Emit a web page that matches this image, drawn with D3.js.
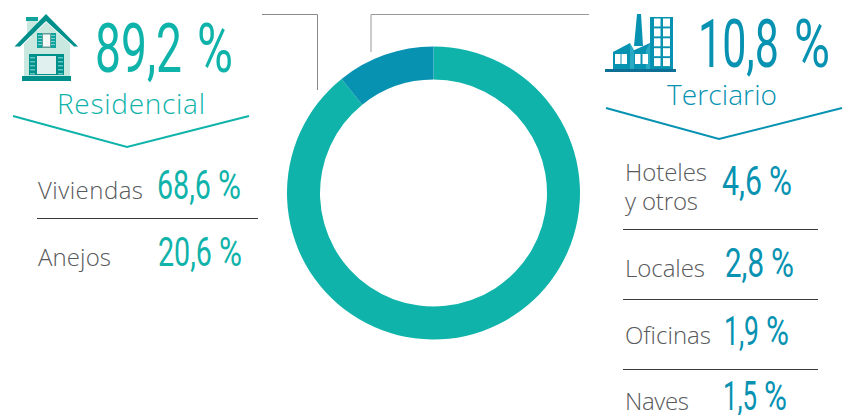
<!DOCTYPE html>
<html>
<head>
<meta charset="utf-8">
<style>
html, body { margin: 0; padding: 0; background: #fff; }
svg { display: block; }
.label { font-family: "Open Sans", sans-serif; font-weight: 300; fill: #58595b; }
.value { font-family: Roboto, sans-serif; font-weight: 400; }
.group { font-family: "Open Sans", sans-serif; font-weight: 300; }
</style>
<script src="https://cdn.jsdelivr.net/npm/d3@7"></script>
</head>
<body>
<svg width="851" height="415"></svg>
<script>
var shareNames = ["Residencial", "Terciario"];
var shareValues = [89.2, 10.8];
var residentialNames = ["Viviendas", "Anejos"];
var residentialValues = ["68,6 %", "20,6 %"];
var tertiaryNames = [["Hoteles", "y otros"], ["Locales"], ["Oficinas"], ["Naves"]];
var tertiaryValues = ["4,6 %", "2,8 %", "1,9 %", "1,5 %"];

var teal = "#0fb3aa";
var blue = "#0792b2";
var center = {x: 433.5, y: 193};
var outerRadius = 146.5;
var innerRadius = 113.5;

var svg = d3.select("svg");

// number and % sign are squeezed on their own, the original face is condensed
function drawValue(text, x, baseline, width, size, color, percentWidth, gap) {
    var parts = text.split(" ");
    [[parts[0], x, width - percentWidth - gap], [parts[1], x + width - percentWidth, percentWidth]].forEach(function(part) {
        var node = svg.append("text")
            .attr("class", "value")
            .attr("font-size", size)
            .attr("fill", color)
            .text(part[0]);
        var squeeze = part[2] / node.node().getComputedTextLength();
        node.attr("transform", "translate(" + part[1] + "," + baseline + ") scale(" + squeeze + ",1)");
    });
}

function drawLabel(text, x, baseline, width) {
    svg.append("text")
        .attr("class", "label")
        .attr("x", x)
        .attr("y", baseline)
        .attr("font-size", 24)
        .attr("textLength", width)
        .attr("lengthAdjust", "spacing")
        .text(text);
}

function drawGroupName(text, x, baseline, width, color) {
    svg.append("text")
        .attr("class", "group")
        .attr("x", x)
        .attr("y", baseline)
        .attr("font-size", 28)
        .attr("fill", color)
        .attr("textLength", width)
        .attr("lengthAdjust", "spacing")
        .text(text);
}

function drawPath(points, color, width) {
    svg.append("path")
        .attr("d", d3.line()(points))
        .attr("fill", "none")
        .attr("stroke", color)
        .attr("stroke-width", width);
}

function drawDonut() {
    var pie = d3.pie().sort(null);
    var arc = d3.arc().innerRadius(innerRadius).outerRadius(outerRadius);
    svg.append("g")
        .attr("transform", "translate(" + center.x + "," + center.y + ")")
        .selectAll("path")
        .data(pie(shareValues))
        .enter()
        .append("path")
        .attr("d", arc)
        .attr("fill", function(d, index) { return index === 0 ? teal : blue; });
}

function rect(group, x, y, w, h, color) {
    group.append("rect").attr("x", x).attr("y", y).attr("width", w).attr("height", h).attr("fill", color);
}

function poly(group, points, color) {
    group.append("polygon").attr("points", points).attr("fill", color);
}

function drawHouse() {
    var g = svg.append("g");
    var dark = "#00908c";
    var mid = "#0fa39c";
    rect(g, 27, 20, 10, 16, "#c9e8df");
    rect(g, 26, 17, 12, 4, mid);
    poly(g, "24,44 46,22 70,44 70,76 24,76", "#c9e8df");
    poly(g, "14.5,46.5 46,14 78,46.5 74,46.5 46,21 20,46.5", dark);
    // upper window
    rect(g, 37, 33, 19, 15, mid);
    d3.range(35, 47, 3).forEach(function(y) {
        rect(g, 38, y, 4, 1, "#7fd3cd");
        rect(g, 51, y, 4, 1, "#7fd3cd");
    });
    rect(g, 42, 33, 9, 15, "#5f9e9b");
    rect(g, 43, 34.5, 7, 12, "#f4f9f8");
    // lower window with shutters
    rect(g, 29, 54, 7, 21, dark);
    rect(g, 57, 54, 7, 21, dark);
    d3.range(57, 75, 4).forEach(function(y) {
        rect(g, 30, y, 5, 1.5, "#5cc6bf");
        rect(g, 58, y, 5, 1.5, "#5cc6bf");
    });
    rect(g, 36, 54, 21, 21, dark);
    rect(g, 37, 56, 19, 18, "#e0f0ee");
    rect(g, 22, 76, 49, 5, dark);
}

function drawFactory() {
    var g = svg.append("g");
    rect(g, 650, 17, 23, 52, blue);
    d3.range(0, 5).forEach(function(row) {
        rect(g, 654, 18.5 + row * 9.9, 6.5, 8, "#fff");
        rect(g, 663, 18.5 + row * 9.9, 7, 8, "#fff");
    });
    poly(g, "634,46 637,14 641,14 643,46", blue);
    poly(g, "613,52 630,43 630,69 613,69", blue);
    poly(g, "630,52 650,43 650,69 630,69", blue);
    poly(g, "630,43 634,50 634,69 630,69", "#2aa9c4");
    poly(g, "650,43 646,50 646,69 650,69", "#2aa9c4");
    [615, 621.5, 635, 642.5].forEach(function(x) {
        rect(g, x, 54, 5.5, 10, "#fff");
    });
    rect(g, 605, 69, 71, 3, "#0c6f93");
}

function drawGroups() {
    drawValue("89,2 %", 95, 72, 138, 68, teal, 36, 15);
    drawValue("10,8 %", 698, 67, 132, 67, blue, 36, 15);

    drawGroupName(shareNames[0], 57, 114, 148, teal);
    drawGroupName(shareNames[1], 667, 105, 110, blue);

    drawPath([[13, 116], [127, 147], [249, 116]], teal, 2);
    drawPath([[606, 108], [719, 139], [842, 108]], blue, 2);
}

function drawLeaders() {
    drawPath([[262, 14.5], [317.5, 14.5], [317.5, 90]], "#888", 1);
    drawPath([[371, 52], [371, 14.5], [589, 14.5]], "#999", 1);
}

function drawTables() {
    var leftX = [157, 158];
    var leftWidth = [84, 84];
    var leftBase = [199, 266];
    var leftLabelWidth = [105, 73];
    residentialNames.forEach(function(name, i) {
        drawLabel(name, 38, leftBase[i], leftLabelWidth[i]);
        drawValue(residentialValues[i], leftX[i], leftBase[i], leftWidth[i], 40, teal, 23, 7);
    });
    drawPath([[37, 218.5], [258, 218.5]], "#3a3a3a", 1);

    var rightX = [722, 725, 724, 723];
    var rightWidth = [70, 69, 65, 64];
    var rightBase = [195, 277, 345, 410];
    var labelBase = [181, 277, 344, 410];
    var rightLabelWidth = [[82, 73], [80], [86], [64]];
    tertiaryNames.forEach(function(lines, i) {
        lines.forEach(function(line, j) {
            drawLabel(line, 625, labelBase[i] + j * 29, rightLabelWidth[i][j]);
        });
        drawValue(tertiaryValues[i], rightX[i], rightBase[i], rightWidth[i], 40, blue, 23, 7);
    });
    [229.5, 299.5, 369.5].forEach(function(y) {
        drawPath([[623, y], [818, y]], "#3a3a3a", 1);
    });
}

drawLeaders();
drawDonut();
drawHouse();
drawFactory();
drawGroups();
drawTables();
</script>
</body>
</html>
